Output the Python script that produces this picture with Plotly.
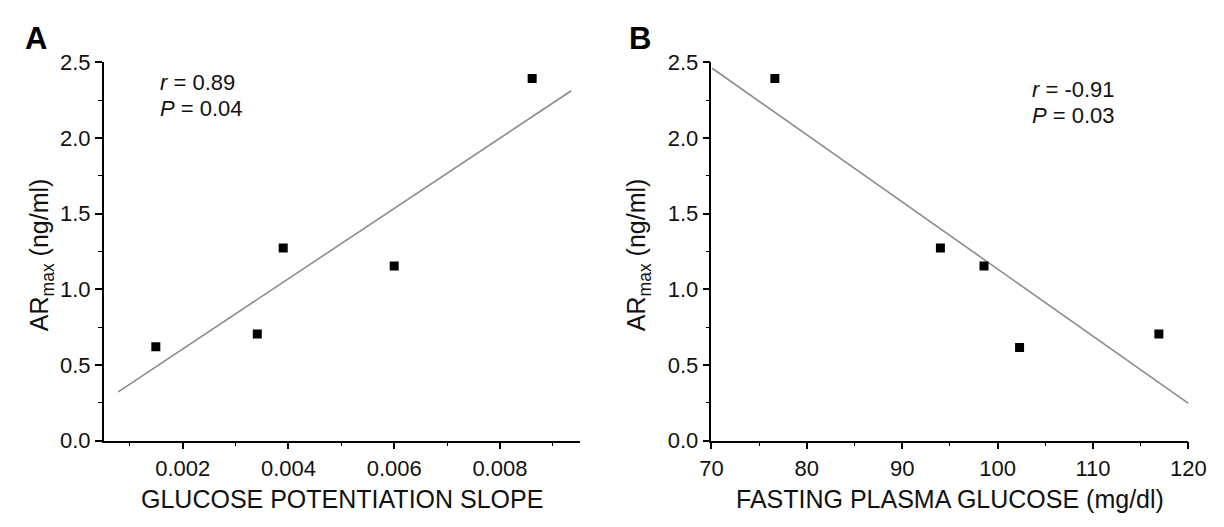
import plotly.graph_objects as go

# Panel A data
slope_x = [0.00149, 0.00341, 0.0039, 0.0060, 0.00861]
ar_max_a = [0.62, 0.705, 1.274, 1.155, 2.394]
fit_a_x = [0.00078, 0.00935]
fit_a_y = [0.323, 2.313]

# Panel B data
fpg_x = [76.65, 94.0, 98.57, 102.3, 116.9]
ar_max_b = [2.394, 1.274, 1.155, 0.616, 0.705]
fit_b_x = [70.08, 120.0]
fit_b_y = [2.462, 0.247]

xa_ticks = [0.002, 0.004, 0.006, 0.008]
xa_labels = ["0.002", "0.004", "0.006", "0.008"]
xb_ticks = [70, 80, 90, 100, 110, 120]
y_ticks = [0.0, 0.5, 1.0, 1.5, 2.0, 2.5]
y_labels = ["0.0", "0.5", "1.0", "1.5", "2.0", "2.5"]

FONT = "Liberation Sans, Arial, Helvetica, sans-serif"
W, H = 1224, 527

fig = go.Figure()
line_style = dict(color="#8c8c8c", width=1.6)
marker_style = dict(symbol="square", size=9, color="black")

fig.add_trace(go.Scatter(x=fit_a_x, y=fit_a_y, mode="lines", line=line_style,
                         xaxis="x", yaxis="y", showlegend=False, hoverinfo="skip"))
fig.add_trace(go.Scatter(x=slope_x, y=ar_max_a, mode="markers", marker=marker_style,
                         xaxis="x", yaxis="y", showlegend=False))
fig.add_trace(go.Scatter(x=fit_b_x, y=fit_b_y, mode="lines", line=line_style,
                         xaxis="x2", yaxis="y2", showlegend=False, hoverinfo="skip"))
fig.add_trace(go.Scatter(x=fpg_x, y=ar_max_b, mode="markers", marker=marker_style,
                         xaxis="x2", yaxis="y2", showlegend=False))

ydom = [(H - 450) / H, (H - 53) / H]
common_axis = dict(showline=True, linecolor="black", linewidth=1.5, showgrid=False,
                   zeroline=False, ticks="outside", ticklen=7, tickwidth=1.5,
                   tickcolor="black", tickfont=dict(family=FONT, size=22, color="#111"),
                   mirror=False, ticklabeloverflow="allow")
minor_style = dict(ticks="outside", ticklen=4, tickwidth=1.2, tickcolor="black", showgrid=False)

fig.update_layout(
    width=W, height=H,
    margin=dict(l=0, r=0, t=0, b=0),
    paper_bgcolor="white", plot_bgcolor="white",
    font=dict(family=FONT, color="#111"),
    xaxis=dict(domain=[94 / W, 582 / W], range=[0.000504, 0.00951], tickvals=xa_ticks,
               ticktext=xa_labels, anchor="y",
               minor=dict(dtick=0.001, tick0=0.001, **minor_style), **common_axis),
    yaxis=dict(domain=ydom, range=[0, 2.5], tickvals=y_ticks, ticktext=y_labels, anchor="x",
               minor=dict(dtick=0.25, tick0=0, **minor_style), **common_axis),
    xaxis2=dict(domain=[717 / W, 1206 / W], range=[70, 120], tickvals=xb_ticks, anchor="y2",
                minor=dict(dtick=5, tick0=0, **minor_style), **common_axis),
    yaxis2=dict(domain=ydom, range=[0, 2.5], tickvals=y_ticks, ticktext=y_labels, anchor="x2",
                minor=dict(dtick=0.25, tick0=0, **minor_style), **common_axis),
)

ann_font = dict(family=FONT, size=22, color="#111")
title_font = dict(family=FONT, size=25, color="#111")
letter_font = dict(family=FONT, size=31, color="black")


def pap(text, px, py, font, angle=0):
    return dict(text=text, x=px / W, y=1 - py / H, xref="paper", yref="paper",
                xanchor="center", yanchor="middle", showarrow=False,
                textangle=angle, font=font)


annotations = [
    pap("<b>A</b>", 25, 28, letter_font),
    pap("<b>B</b>", 644, 28, letter_font),
    dict(text="<i>r</i> = 0.89", x=0.00154, y=2.368, xref="x", yref="y", xanchor="left",
         yanchor="middle", showarrow=False, font=ann_font),
    dict(text="<i>P</i> = 0.04", x=0.00154, y=2.196, xref="x", yref="y", xanchor="left",
         yanchor="middle", showarrow=False, font=ann_font),
    dict(text="<i>r</i> = -0.91", x=103.4, y=2.324, xref="x2", yref="y2", xanchor="left",
         yanchor="middle", showarrow=False, font=ann_font),
    dict(text="<i>P</i> = 0.03", x=103.4, y=2.15, xref="x2", yref="y2", xanchor="left",
         yanchor="middle", showarrow=False, font=ann_font),
    pap("GLUCOSE POTENTIATION SLOPE", (94 + 582) / 2, 511, title_font),
    pap("FASTING PLASMA GLUCOSE (mg/dl)", (717 + 1206) / 2, 511, title_font),
    pap("AR<sub>max</sub> (ng/ml)", 30, 255, title_font, -90),
    pap("AR<sub>max</sub> (ng/ml)", 642, 255, title_font, -90),
]
fig.update_layout(annotations=annotations)

fig.write_html("out.html", config={"displayModeBar": False},
               post_script="document.body.style.margin='0';document.body.style.padding='0';")
